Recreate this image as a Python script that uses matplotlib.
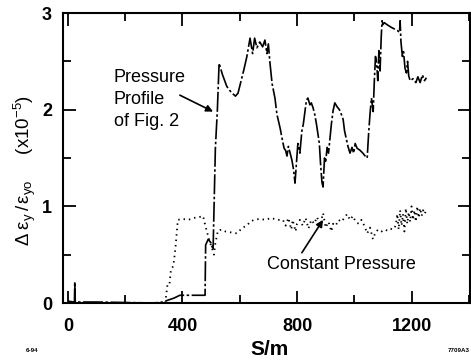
import matplotlib
matplotlib.use("Agg")
import matplotlib.pyplot as plt
from matplotlib.ticker import MultipleLocator

plt.rcParams['font.family'] = ['Liberation Sans', 'DejaVu Sans']
plt.rcParams['mathtext.fontset'] = 'custom'
plt.rcParams['mathtext.rm'] = 'Liberation Sans'
plt.rcParams['mathtext.it'] = 'Liberation Sans:italic'
plt.rcParams['mathtext.bf'] = 'Liberation Sans:bold'

# Pressure profile of Fig. 2
s_prof = [0, 20, 23, 24, 26, 60, 100, 200, 300, 332, 350, 370, 391, 420, 470, 479,
          481, 490, 500, 507, 515, 522, 528, 540, 555, 570, 585, 594, 605, 615, 625,
          636, 645, 652, 660, 670, 680, 688, 695, 700, 705, 713, 723, 730, 741, 748,
          755, 760, 765, 770, 776, 782, 788, 793, 798, 803, 810, 817, 822, 828, 833,
          838, 845, 850, 856, 862, 868, 873, 878, 882, 887, 891, 896, 900, 905, 910,
          915, 920, 926, 932, 940, 948, 955, 961, 966, 972, 978, 985, 992, 998, 1003,
          1010, 1020, 1030, 1038, 1045, 1050, 1055, 1060, 1066, 1070, 1074, 1078, 1082,
          1086, 1090, 1094, 1097, 1100, 1105, 1114, 1130, 1150, 1158, 1160, 1163, 1168,
          1172, 1177, 1182, 1186, 1190, 1195, 1205, 1215, 1222, 1230, 1238, 1245, 1252]
y_prof = [0.02, 0.01, 0.01, 0.22, 0.01, 0.01, 0.01, 0.005, 0.0, 0.01, 0.03, 0.05, 0.08, 0.08, 0.08, 0.08,
          0.6, 0.66, 0.62, 0.55, 1.6, 2.0, 2.48, 2.36, 2.24, 2.18, 2.14, 2.17, 2.30, 2.42, 2.55,
          2.74, 2.58, 2.74, 2.64, 2.70, 2.65, 2.72, 2.58, 2.68, 2.50, 2.27, 2.12, 1.95, 1.81, 1.70,
          1.60, 1.58, 1.52, 1.62, 1.55, 1.48, 1.38, 1.24, 1.45, 1.65, 1.55, 1.78, 1.85, 1.99, 2.10,
          2.12, 2.05, 2.07, 2.02, 1.95, 1.85, 1.75, 1.65, 1.45, 1.25, 1.20, 1.50, 1.45, 1.61, 1.55,
          1.70, 1.85, 1.99, 2.07, 2.03, 2.00, 1.95, 1.90, 1.78, 1.70, 1.62, 1.55, 1.61, 1.55, 1.65,
          1.60, 1.58, 1.55, 1.52, 1.50, 1.75, 1.96, 2.12, 1.98, 2.30, 2.55, 2.48, 2.30,
          2.61, 2.40, 2.75, 2.92, 2.88, 2.90, 2.88, 2.85, 2.82, 2.80, 2.92, 2.70, 2.55,
          2.60, 2.43, 2.38, 2.50, 2.35, 2.30, 2.32, 2.28, 2.34, 2.28, 2.36, 2.30, 2.33]

# Constant pressure
s_const = [0, 340, 348, 355, 360, 368, 375, 384, 400, 420, 440, 460, 472, 480, 489, 497,
           505, 510, 515, 524, 538, 550, 570, 590, 610, 625, 636, 650, 670, 690, 710, 730,
           751, 760, 770, 780, 785, 795, 800, 810, 820, 830, 840, 850, 860, 870, 880, 891,
           900, 910, 920, 926, 935, 945, 955, 965, 975, 985, 995, 1005, 1015, 1025, 1035,
           1045, 1055, 1065, 1075, 1085, 1095, 1105, 1115, 1125, 1135, 1145, 1150, 1155,
           1160, 1165, 1170, 1175, 1180, 1185, 1190, 1195, 1200, 1205, 1210, 1215, 1220,
           1225, 1230, 1235, 1240, 1245, 1250]
y_const = [0.0, 0.0, 0.2, 0.2, 0.35, 0.38, 0.55, 0.86, 0.87, 0.86, 0.88, 0.89, 0.90, 0.80, 0.70, 0.62,
           0.55, 0.50, 0.62, 0.75, 0.76, 0.74, 0.73, 0.72, 0.78, 0.80, 0.84, 0.86, 0.87, 0.86, 0.88, 0.86,
           0.86, 0.80, 0.88, 0.76, 0.86, 0.74, 0.82, 0.86, 0.80, 0.88, 0.77, 0.86, 0.82, 0.89, 0.80, 0.93,
           0.78, 0.84, 0.74, 0.82, 0.80, 0.86, 0.84, 0.88, 0.92, 0.86, 0.90, 0.84, 0.82, 0.86, 0.80,
           0.72, 0.78, 0.66, 0.74, 0.76, 0.74, 0.76, 0.75, 0.77, 0.76, 0.80, 0.92, 0.76,
           0.96, 0.80, 0.92, 0.74, 0.98, 0.82, 0.94, 0.84, 1.00, 0.86, 0.96, 0.84, 1.00,
           0.88, 0.98, 0.90, 0.96, 0.92, 0.95]

fig = plt.figure(figsize=(4.71, 3.61), dpi=100)
ax = fig.add_axes([63/471, 1-303/361, (470-63)/471, (303-13)/361])

ax.plot(s_prof, y_prof, color='black', lw=1.2, linestyle=(0, (12, 1.5, 1.5, 1.5)))
ax.plot(s_const, y_const, color='black', lw=1.3, linestyle=(0, (0.8, 2.2)))

ax.set_xlim(-17, 1404)
ax.set_ylim(0, 3)
ax.xaxis.set_major_locator(MultipleLocator(400))
ax.xaxis.set_minor_locator(MultipleLocator(200))
ax.yaxis.set_major_locator(MultipleLocator(1))
ax.yaxis.set_minor_locator(MultipleLocator(0.5))
ax.tick_params(which='both', direction='in', top=True, right=True, width=1.3, color='black')
ax.tick_params(which='major', length=9)
ax.tick_params(which='minor', length=6)
ax.tick_params(axis='x', which='major', pad=11)
ax.tick_params(axis='y', which='major', pad=8)
for lab in ax.get_xticklabels() + ax.get_yticklabels():
    lab.set_fontweight('bold')
    lab.set_fontsize(13)
for sp in ax.spines.values():
    sp.set_linewidth(1.5)

ax.set_xlabel('S/m', fontsize=15, fontweight='bold')
ax.xaxis.set_label_coords((270-63)/407, -0.128)
ax.set_ylabel(r'$\mathregular{\Delta\;ε_{y}\,/\,ε_{yo}}$     (x10$^{\mathregular{-5}}$)', fontsize=13.5)
ax.yaxis.set_label_coords(-0.062, (303-170)/290)

ax.text(160, 2.42, 'Pressure\nProfile\nof Fig. 2', fontsize=13, ha='left', va='top',
        linespacing=1.38)
ax.annotate('', xy=(507, 1.98), xytext=(391, 2.15),
            arrowprops=dict(arrowstyle='-|>', color='black', lw=1.2, mutation_scale=10,
                            shrinkA=0, shrinkB=0))
ax.text(955, 0.40, 'Constant Pressure', fontsize=13, ha='center', va='center')
ax.annotate('', xy=(891, 0.86), xytext=(817, 0.52),
            arrowprops=dict(arrowstyle='-|>', color='black', lw=1.2, mutation_scale=10,
                            shrinkA=0, shrinkB=0))

fig.text(32/471, 1-351/361, '6-94', fontsize=4.5, fontweight='bold', ha='center', va='center')
fig.text(459/471, 1-351/361, '7709A3', fontsize=4.5, fontweight='bold', ha='center', va='center')

fig.savefig('out.png', dpi=100)
